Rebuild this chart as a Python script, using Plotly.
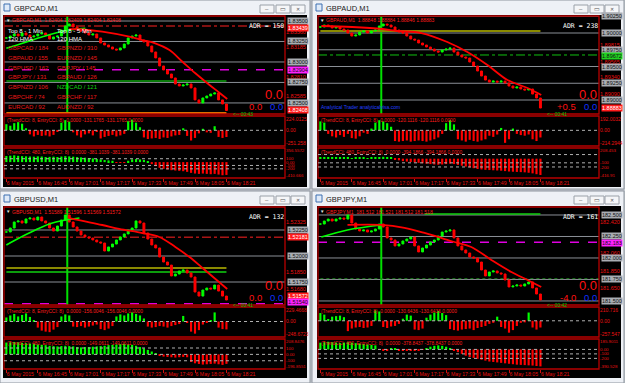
import plotly.graph_objects as go

# ---------------- data ----------------
time_ticks = [0, 8, 16, 24, 32, 40, 48, 56]
time_labels = ["6 May 2015", "6 May 16:45", "6 May 17:01", "6 May 17:17",
               "6 May 17:33", "6 May 17:49", "6 May 18:05", "6 May 18:21"]
signal_bar = 15.5

gbpcad_close = [1.83293, 1.83317, 1.83341, 1.83317, 1.83354, 1.83329, 1.83305, 1.83317, 1.83341, 1.83354,
                1.83329, 1.83280, 1.83305, 1.83317, 1.83390, 1.83439, 1.83463, 1.83427, 1.83390, 1.83378,
                1.83354, 1.83329, 1.83341, 1.83293, 1.83232, 1.83207, 1.83183, 1.83158, 1.83146, 1.83171,
                1.83219, 1.83293, 1.83317, 1.83329, 1.83268, 1.83244, 1.83195, 1.83122, 1.83049, 1.82951,
                1.82902, 1.82853, 1.82805, 1.82731, 1.82707, 1.82719, 1.82731, 1.82683, 1.82537, 1.82500,
                1.82561, 1.82585, 1.82609, 1.82622, 1.82537, 1.82487, 1.82408]
gbpaud_close = [1.90090, 1.90119, 1.90105, 1.90075, 1.90090, 1.90060, 1.90045, 1.90000, 1.89955, 1.89970,
                1.90015, 1.90030, 1.90000, 1.90030, 1.90045, 1.90105, 1.90134, 1.90119, 1.90090, 1.90045,
                1.90015, 1.90000, 1.89955, 1.89910, 1.89895, 1.89851, 1.89821, 1.89791, 1.89761, 1.89731,
                1.89716, 1.89746, 1.89761, 1.89776, 1.89716, 1.89672, 1.89642, 1.89627, 1.89567, 1.89507,
                1.89433, 1.89358, 1.89298, 1.89268, 1.89283, 1.89268, 1.89283, 1.89254, 1.89209, 1.89179,
                1.89194, 1.89164, 1.89149, 1.89164, 1.89089, 1.89030, 1.88880]
gbpusd_close = [1.52231, 1.52269, 1.52327, 1.52337, 1.52317, 1.52356, 1.52365, 1.52346, 1.52375, 1.52337,
                1.52317, 1.52269, 1.52240, 1.52288, 1.52346, 1.52394, 1.52327, 1.52279, 1.52240, 1.52202,
                1.52183, 1.52173, 1.52154, 1.52135, 1.52125, 1.52048, 1.52087, 1.52115, 1.52154, 1.52183,
                1.52212, 1.52250, 1.52269, 1.52337, 1.52317, 1.52221, 1.52163, 1.52106, 1.52077, 1.51990,
                1.51942, 1.51913, 1.51808, 1.51827, 1.51856, 1.51865, 1.51837, 1.51798, 1.51654, 1.51615,
                1.51673, 1.51692, 1.51683, 1.51721, 1.51663, 1.51615, 1.51577]
gbpjpy_close = [182.395, 182.430, 182.453, 182.430, 182.453, 182.465, 182.453, 182.500, 182.407, 182.337,
                182.314, 182.326, 182.302, 182.314, 182.337, 182.395, 182.360, 182.233, 182.209, 182.140,
                182.163, 182.198, 182.221, 182.244, 182.140, 182.070, 182.116, 182.151, 182.186, 182.209,
                182.256, 182.302, 182.314, 182.326, 182.233, 182.140, 182.093, 182.058, 182.012, 182.000,
                181.953, 181.860, 181.791, 181.837, 181.849, 181.826, 181.814, 181.744, 181.663, 181.674,
                181.686, 181.674, 181.698, 181.721, 181.651, 181.581, 181.512]

# moving averages (bar position, price)
gbpcad_hma_x = [16, 18.6, 24.4, 31.3, 34.6, 37.9, 41.5, 44.8, 48.1, 51.7, 54.2, 56.2]
gbpcad_hma_y = [1.83402, 1.83399, 1.83369, 1.83308, 1.83268, 1.83228, 1.83146, 1.83003, 1.82862, 1.82719, 1.82625, 1.82548]
gbpcad_ma_x = [0, 4.1, 9.2, 15, 20.1]
gbpcad_ma_y = [1.83167, 1.83228, 1.83308, 1.83382, 1.83411]
gbpaud_hma_x = [0.25, 8.1, 15.8, 19.6, 25.7, 32.3, 37.4, 42.5, 47.6, 52.7, 56.2]
gbpaud_hma_y = [1.90105, 1.90090, 1.90060, 1.90030, 1.90000, 1.89866, 1.89716, 1.89522, 1.89298, 1.89179, 1.89074]
gbpusd_hma_x = [16.0, 24.4, 28.7, 34.6, 38.9, 43.0, 46.6, 49.9, 53.2, 56.2]
gbpusd_hma_y = [1.52365, 1.52298, 1.52260, 1.52221, 1.52183, 1.52087, 1.51990, 1.51885, 1.51779, 1.51683]
gbpusd_ma_x = [0, 2.3, 7.4, 11.7, 18.6]
gbpusd_ma_y = [1.52106, 1.52154, 1.52250, 1.52317, 1.52365]
gbpjpy_hma_x = [6.9, 15.5, 21.4, 26.5, 34.1, 38.4, 43.5, 48.6, 52.7, 56.2]
gbpjpy_hma_y = [182.384, 182.384, 182.349, 182.291, 182.186, 182.128, 181.977, 181.837, 181.744, 181.663]
gbpjpy_ma_x = [0.25, 6.9, 15.5]
gbpjpy_ma_y = [182.244, 182.326, 182.384]

# CCI histograms
gbpcad_cci_entry = [120, 90, 140, 160, 130, 40, -80, -120, -90, -110, -100, -120, -90, -30, 150, 200, 170, -40, -100, -140,
                    -80, -60, -100, -30, -160, -130, -110, -90, -120, -100, -70, 180, 210, 150, 60, -140, -170, -160, -150, -170,
                    -140, -150, -120, -100, -90, 40, -110, -200, -150, -60, 30, -40, -50, 80, -130, -150, -131]
gbpcad_cci_trend = [180, 190, 200, 185, 175, 170, 165, 160, 170, 165, 150, 155, 160, 150, 165, 175, 170, 160, 150, 140,
                    130, 120, 110, 95, 80, 60, 50, 40, -15, -15, -10, 40, 80, 90, 80, 60, 30, -60, -120, -170,
                    -200, -220, -240, -250, -260, -270, -290, -320, -340, -350, -340, -350, -360, -350, -370, -390, -381]
gbpaud_cci_entry = [150, 130, -60, -100, -120, -80, -110, -60, -130, -140, -100, -40, -60, 30, 130, 170, 150, 120, 60, -180,
                    -190, -180, -170, -190, -180, -170, -180, -190, -170, -150, -120, -60, 120, 170, 100, -150, -170, -190, -160, -180,
                    -190, -170, -150, -90, -110, -70, 40, -210, -150, 30, -60, -80, -90, -70, -150, -180, -120]
gbpaud_cci_trend = [30, 35, 30, 25, 30, 20, 25, 20, 15, 20, 25, 20, 15, 20, 30, 40, 45, 40, 30, -20,
                    -40, -60, -70, -80, -90, -100, -110, -120, -130, -140, -145, -140, -130, -120, -130, -150, -170, -190, -210, -230,
                    -250, -260, -270, -275, -280, -285, -290, -300, -310, -315, -320, -325, -330, -340, -355, -375, -394]
gbpusd_cci_entry = [80, 120, 150, 100, 130, 160, 90, 20, -120, -180, -200, -210, -160, -110, 100, 140, 120, -100, -110, -90,
                    -120, -100, -80, -60, -150, -170, -140, -90, 100, 140, 120, 160, 180, 150, 120, 60, -100, -120, -110, -90,
                    -100, -120, -90, -70, -50, 110, -30, -200, -240, -170, -60, -20, 20, 180, -120, -150, -156]
gbpusd_cci_trend = [185, 190, 195, 190, 180, 175, 170, 165, 155, 150, 145, 135, 130, 125, 130, 135, 130, 125, 115, 110,
                    115, 115, 120, 125, 130, 135, 145, 150, 155, 160, 165, 155, 150, 135, 115, 95, 70, 45, 20, -10,
                    -35, -40, -45, -50, -45, -40, -45, -120, -140, -150, -160, -155, -150, -145, -155, -165, -149]
gbpjpy_cci_entry = [150, 120, 20, 80, 90, 100, 70, -200, -150, -130, -120, -140, -130, -100, 200, 180, -120, -140, -110, -100,
                    -60, 40, 120, 100, -170, -180, -150, 60, 120, 160, 190, 150, 110, -160, -180, -190, -170, -160, -150, -180,
                    -140, -120, -100, -60, -40, 80, -120, -150, -230, -180, -100, -40, -30, 160, -130, -170, -130]
gbpjpy_cci_trend = [150, 160, 170, 160, 150, 140, 150, 160, 150, 140, 130, 120, 110, 100, 90, -10, -20, -15, 10, 15,
                    -20, -30, -35, -30, -25, -20, -10, 30, 60, 80, 90, 80, 60, 30, -20, -60, -100, -140, -170, -190,
                    -210, -230, -250, -270, -280, -290, -300, -310, -320, -330, -340, -345, -350, -355, -360, -370, -379]

# price axis tick values and labelled level boxes
gbpcad_ticks = [1.83360, 1.83185, 1.82810, 1.82585]
gbpaud_ticks = [1.89815, 1.89565, 1.89340, 1.89090]
gbpusd_ticks = [1.52325, 1.51850, 1.51680]
gbpjpy_ticks = [182.420, 182.060, 181.850, 181.650]

gbpcad_levels = [(1.83500, "grey"), (1.83439, "red"), (1.83250, "grey"), (1.83000, "grey"), (1.82904, "magenta"),
                 (1.82750, "grey"), (1.82500, "grey"), (1.82408, "price")]
gbpaud_levels = [(1.90250, "grey"), (1.90000, "grey"), (1.89750, "grey"), (1.89672, "green"), (1.89500, "grey"),
                 (1.89250, "grey"), (1.89000, "grey"), (1.88883, "price")]
gbpusd_levels = [(1.52250, "grey"), (1.52181, "red"), (1.52000, "grey"), (1.51750, "grey"),
                 (1.51572, "price"), (1.51540, "magenta")]
gbpjpy_levels = [(182.500, "grey"), (182.250, "grey"), (182.183, "magenta"), (182.000, "grey"),
                 (181.750, "grey"), (181.500, "grey")]

# partial horizontal lines: (price, from bar, to bar, kind)
gbpcad_segments = [(1.82768, 0, 56, "darkgreen"), (1.82378, 0, 56, "orange")]
gbpaud_segments = [(1.90030, 0, 56, "olive")]
gbpusd_segments = [(1.51885, 0, 56, "olive"), (1.51846, 0, 56, "lime")]
gbpjpy_segments = [(182.512, 26.5, 56, "lime"), (181.760, 0, 71, "darkgreen_dot")]

cci_entry_ticks = [[224.0125, 0, -251.258], [192.0032, 0, -214.2944], [229.4668, 0, -248.6723], [210.716, 0, -257.547]]
cci_entry_ticktext = [["224.0125", "0.00", "-251.258"], ["192.0032", "0.00", "-214.2944"],
                      ["229.4668", "0.00", "-248.6723"], ["210.716", "0.00", "-257.547"]]
cci_trend_ticks = [[356.5572, 100, 0, -100, -200, -410.666], [208.453, -100, -200, -416.91],
                   [208.8476, 100, 0, -100, -196.8551], [185.9011, 0, -100, -200, -390.528]]
cci_trend_ticktext = [["356.5572", "100", "0.00", "-100", "-200", "-410.666"], ["208.453", "-100", "-200", "-416.91"],
                      ["208.8476", "100", "0.00", "-100", "-196.8551"], ["185.9011", "0.00", "-100", "-200", "-390.528"]]
cci_trend_levels = [[100, -100, -200], [100, -100, -200], [100, 0, -100], [0, -100, -200]]

top8_1min = ["GBPCAD / 184", "GBPAUD / 155", "GBPUSD / 162", "GBPJPY / 131", "GBPNZD / 106", "GBPCHF / 74", "EURCAD / 92"]
top8_5min = ["GBPNZD / 310", "EURNZD / 145", "GBPJPY / 145", "GBPAUD / 126", "NZDCAD / 121", "GBPCHF / 117", "AUDNZD / 92"]

# ---------------- drawing ----------------
W, H = 625, 383
FONT = "Liberation Sans"
MONO = "DejaVu Sans Mono"
RED = "#ff1c1c"
LABEL_RED = "#e81010"
BULL, BEAR = "#00ff00", "#ff0000"


def fx(px):
    return px / W


def fy(py):
    return 1 - py / H


shapes, annotations = [], []


def rect(x0, y0, x1, y1, fill=None, line=None, lw=1, layer="below"):
    shapes.append(dict(type="rect", xref="paper", yref="paper", x0=fx(x0), x1=fx(x1), y0=fy(y1), y1=fy(y0),
                       fillcolor=fill or "rgba(0,0,0,0)",
                       line=dict(color=line or "rgba(0,0,0,0)", width=lw if line else 0), layer=layer))


def text(px, py, s, color, size=6, family=FONT, xanchor="left", yanchor="middle", bg=None):
    a = dict(xref="paper", yref="paper", x=fx(px), y=fy(py), text=s, showarrow=False, xanchor=xanchor,
             yanchor=yanchor, font=dict(color=color, size=size, family=family), borderpad=0)
    if bg:
        a["bgcolor"] = bg
    annotations.append(a)


level_style = {
    "grey": dict(line=dict(color="#8a8f96", width=1)),
    "red": dict(line=dict(color="#ff2020", width=1, dash="dashdot")),
    "magenta": dict(line=dict(color="#e000e0", width=1.5, dash="dash")),
    "green": dict(line=dict(color="#10c010", width=1, dash="dashdot")),
    "price": None,
}
box_style = {
    "grey": ("#a9adb3", "#101010"),
    "red": ("#ff1a1a", "#ffffff"),
    "magenta": ("#ff20ff", "#101010"),
    "green": ("#20d020", "#101010"),
    "price": ("#ff1a1a", "#ffffff"),
}
segment_style = {
    "darkgreen": dict(color="#0a7a0a", width=2),
    "orange": dict(color="#e07000", width=2),
    "olive": dict(color="#8a8a00", width=2),
    "lime": dict(color="#10d010", width=1.5),
    "darkgreen_dot": dict(color="#1a7a1a", width=1, dash="dot"),
}

windows = [
    dict(title="GBPCAD,M1", head="GBPCAD,M1  1.82404 1.82409 1.82404 1.82408", dx=0, dy=0,
         outer=(0, 0, 310, 189), close=gbpcad_close, hma=(gbpcad_hma_x, gbpcad_hma_y), ma=(gbpcad_ma_x, gbpcad_ma_y),
         entry=gbpcad_cci_entry, trend=gbpcad_cci_trend, ticks=gbpcad_ticks, levels=gbpcad_levels, segs=gbpcad_segments,
         yr=[1.82365, 1.83561], fmt="{:.5f}", adr="ADR = 150", sig=("0.0", "0.0"), clock="<-- 00:43",
         cci1="(TrendCCI: 8, EntryCCI: 8)  0.0000 -131.1765 -131.1765 0.0000",
         cci2="(TrendCCI: 480, EntryCCI: 8)  0.0000 -381.1039 -381.1039 0.0000"),
    dict(title="GBPAUD,M1", head="GBPAUD,M1  1.88848 1.88884 1.88846 1.88883", dx=314, dy=0,
         outer=(312, 0, 624, 189), close=gbpaud_close, hma=(gbpaud_hma_x, gbpaud_hma_y), ma=None,
         entry=gbpaud_cci_entry, trend=gbpaud_cci_trend, ticks=gbpaud_ticks, levels=gbpaud_levels, segs=gbpaud_segments,
         yr=[1.88791, 1.90254], fmt="{:.5f}", adr="ADR = 238", sig=("+0.5", "0.0"), clock="<-- 00:41",
         cci1="(TrendCCI: 8, EntryCCI: 8)  0.0000 -120.1116 -120.1116 0.0000",
         cci2="(TrendCCI: 480, EntryCCI: 8)  0.0000 -394.1866 -394.1866 0.0000"),
    dict(title="GBPUSD,M1", head="GBPUSD,M1  1.51589 1.51596 1.51569 1.51572", dx=0, dy=191,
         outer=(0, 191, 310, 383), close=gbpusd_close, hma=(gbpusd_hma_x, gbpusd_hma_y), ma=(gbpusd_ma_x, gbpusd_ma_y),
         entry=gbpusd_cci_entry, trend=gbpusd_cci_trend, ticks=gbpusd_ticks, levels=gbpusd_levels, segs=gbpusd_segments,
         yr=[1.51529, 1.52471], fmt="{:.5f}", adr="ADR = 132", sig=("0.0", "0.0"), clock="<-- 00:41",
         cci1="(TrendCCI: 8, EntryCCI: 8)  0.0000 -156.0046 -156.0046 0.0000",
         cci2="(TrendCCI: 480, EntryCCI: 8)  0.0000 -149.0611 -149.0611 0.0000"),
    dict(title="GBPJPY,M1", head="GBPJPY,M1  181.512 181.521 181.512 181.518", dx=314, dy=191,
         outer=(312, 191, 624, 383), close=gbpjpy_close, hma=(gbpjpy_hma_x, gbpjpy_hma_y), ma=(gbpjpy_ma_x, gbpjpy_ma_y),
         entry=gbpjpy_cci_entry, trend=gbpjpy_cci_trend, ticks=gbpjpy_ticks, levels=gbpjpy_levels, segs=gbpjpy_segments,
         yr=[181.453, 182.593], fmt="{:.3f}", adr="ADR = 161", sig=("-4.0", "0.0"), clock="<-- 00:42",
         cci1="(TrendCCI: 8, EntryCCI: 8)  0.0000 -130.6436 -130.6436 0.0000",
         cci2="(TrendCCI: 480, EntryCCI: 8)  0.0000 -378.8437 -378.8437 0.0000"),
]

PL, PR = 4, 285
PANELS = [(16, 114), (116, 146), (148, 178)]
XR = [-0.6, 70.9]
BOX_H = 6.5


def padded(ticks, frac=0.1):
    lo, hi = min(ticks), max(ticks)
    span = hi - lo
    return [lo - frac * span, hi + frac * span]


fig = go.Figure()
layout_axes = {}

for w, win in enumerate(windows):
    dx, dy = win["dx"], win["dy"]
    ox0, oy0, ox1, oy1 = win["outer"]
    # window frame + title bar
    rect(ox0, oy0, ox1, oy1, fill="#eef1f6", line="#8e959e", lw=1)
    rect(ox0 + 4, oy0 + 4, ox0 + 10, oy0 + 11, fill="#dfeaf8", line="#3d6fb0", lw=1)
    text(ox0 + 13, oy0 + 8.5, win["title"], "#202020", size=7.5)
    for bx in (ox1 - 50, ox1 - 34, ox1 - 19):
        rect(bx, oy0 + 5, bx + 14, oy0 + 13, fill="#f5f6f8", line="#9aa0a8", lw=1)
    text(ox1 - 43, oy0 + 9, "–", "#555555", size=6, xanchor="center")
    text(ox1 - 27, oy0 + 9, "▭", "#555555", size=6, xanchor="center")
    text(ox1 - 12, oy0 + 9, "✕", "#555555", size=5, xanchor="center")
    # black chart area
    rect(3 + dx, 15 + dy, 307 + dx, 187 + dy, fill="#000000")

    left, right = PL + dx, PR + dx
    ids = []
    for p, (top, bot) in enumerate(PANELS):
        n = 3 * w + p + 1
        s = "" if n == 1 else str(n)
        ids.append(s)
        xa = dict(domain=[fx(left), fx(right)], range=XR, anchor="y" + s, showgrid=False, zeroline=False,
                  showline=False, showticklabels=False, ticks="", fixedrange=True,
                  rangeslider=dict(visible=False))
        if p == 2:
            xa.update(showticklabels=True, tickvals=time_ticks, ticktext=time_labels, ticks="outside", ticklen=3,
                      tickcolor="#d01010", tickwidth=1, ticklabelposition="outside right", tickangle=0,
                      ticklabelstandoff=0, tickfont=dict(color=LABEL_RED, size=5.2, family=FONT))
        ya = dict(domain=[fy(bot + dy), fy(top + dy)], anchor="x" + s, side="right", showgrid=False,
                  zeroline=False, showline=False, ticks="", fixedrange=True,
                  tickfont=dict(color=LABEL_RED, size=5.5, family=FONT))
        if p == 0:
            ya.update(range=win["yr"], tickvals=win["ticks"], ticktext=[win["fmt"].format(v) for v in win["ticks"]])
        elif p == 1:
            ya.update(range=padded(cci_entry_ticks[w], 0.12), tickvals=cci_entry_ticks[w], ticktext=cci_entry_ticktext[w],
                      tickfont=dict(color=LABEL_RED, size=5, family=FONT))
        else:
            ya.update(range=padded(cci_trend_ticks[w], 0.08), tickvals=cci_trend_ticks[w],
                      ticktext=cci_trend_ticktext[w], tickfont=dict(color=LABEL_RED, size=4.4, family=FONT))
        layout_axes["xaxis" + s] = xa
        layout_axes["yaxis" + s] = ya
        # red panel outline
        rect(left, top + dy, right, bot + dy, line="#b80000", lw=1.3, layer="above")

    sm, s1, s2 = ids
    close = win["close"]
    bars = list(range(len(close)))
    opens = [close[0]] + close[:-1]
    highs = [max(o, c) for o, c in zip(opens, close)]
    lows = [min(o, c) for o, c in zip(opens, close)]

    # level lines and their price boxes (boxes nudged apart so they do not overlap)
    y0p, y1p = win["yr"]
    mtop, mbot = PANELS[0][0] + dy, PANELS[0][1] + dy
    lv_sorted = sorted(win["levels"], key=lambda t: -t[0])
    orig = [mtop + (y1p - pr) / (y1p - y0p) * (mbot - mtop) for pr, _ in lv_sorted]
    pos = list(orig)
    for i in range(1, len(pos)):
        pos[i] = max(pos[i], pos[i - 1] + BOX_H)
    pos[-1] = min(pos[-1], mbot - 3)
    for i in range(len(pos) - 2, -1, -1):
        pos[i] = min(pos[i], pos[i + 1] - BOX_H)
    for (price, kind), po, pn in zip(lv_sorted, orig, pos):
        st = level_style[kind]
        if st is not None:
            shapes.append(dict(type="line", xref="x%s domain" % sm, yref="y" + sm, x0=0, x1=1, y0=price, y1=price,
                               layer="below", **st))
        bg, fg = box_style[kind]
        annotations.append(dict(xref="paper", yref="y" + sm, x=fx(right + 1.5), y=price, text=win["fmt"].format(price),
                                showarrow=False, xanchor="left", yanchor="middle", bgcolor=bg, borderpad=0,
                                yshift=po - pn, font=dict(color=fg, size=5.5, family=FONT)))
    for price, b0, b1, kind in win["segs"]:
        shapes.append(dict(type="line", xref="x" + sm, yref="y" + sm, x0=b0, x1=b1, y0=price, y1=price,
                           layer="below", line=segment_style[kind]))
    # signal bar vertical line
    shapes.append(dict(type="line", xref="x" + sm, yref="y%s domain" % sm, x0=signal_bar, x1=signal_bar, y0=0, y1=1,
                       layer="below", line=dict(color="#00e000", width=2)))

    fig.add_trace(go.Candlestick(x=bars, open=opens, high=highs, low=lows, close=close,
                                 xaxis="x" + sm, yaxis="y" + sm, whiskerwidth=0,
                                 increasing=dict(line=dict(color=BULL, width=1), fillcolor=BULL),
                                 decreasing=dict(line=dict(color=BEAR, width=1), fillcolor=BEAR)))
    if win["ma"] is not None:
        fig.add_trace(go.Scatter(x=win["ma"][0], y=win["ma"][1], mode="lines", xaxis="x" + sm, yaxis="y" + sm,
                                 line=dict(color="#00ff00", width=1.6, shape="spline")))
    fig.add_trace(go.Scatter(x=win["hma"][0], y=win["hma"][1], mode="lines", xaxis="x" + sm, yaxis="y" + sm,
                             line=dict(color="#ff0000", width=1.8, shape="spline")))

    # CCI panels
    for vals, s in ((win["entry"], s1), (win["trend"], s2)):
        fig.add_trace(go.Bar(x=list(range(len(vals))), y=vals, width=0.55, xaxis="x" + s, yaxis="y" + s,
                             marker=dict(color=[BULL if v >= 0 else BEAR for v in vals], line=dict(width=0))))
    shapes.append(dict(type="line", xref="x%s domain" % s1, yref="y" + s1, x0=0, x1=1, y0=0, y1=0,
                       layer="above", line=dict(color="#b0b0b0", width=1, dash="dot")))
    for lv in cci_trend_levels[w]:
        shapes.append(dict(type="line", xref="x%s domain" % s2, yref="y" + s2, x0=0, x1=1, y0=lv, y1=lv,
                           layer="above", line=dict(color="#b0b0b0", width=1, dash="dot")))

    # texts inside the chart
    text(5 + dx, 20.5 + dy, "▼", "#e0e0e0", size=4.5)
    text(11 + dx, 20.5 + dy, win["head"], RED, size=5)
    text(6 + dx, 120 + dy, win["cci1"], RED, size=4.8)
    text(6 + dx, 152 + dy, win["cci2"], RED, size=4.8)
    text(285 + dx, 25.5 + dy, win["adr"], "#ffffff", size=6.5, family=MONO, xanchor="right")
    text(284 + dx, 94 + dy, "0.0", "#ff1010", size=13, xanchor="right")
    text(263 + dx, 106.5 + dy, win["sig"][0], "#ff1010", size=9.5, xanchor="right")
    text(284 + dx, 106.5 + dy, win["sig"][1], "#1030ff", size=9.5, xanchor="right")
    text(232 + dx, 113.5 + dy, win["clock"], "#00c800", size=5)

# GBPCAD currency strength table
text(7, 31, "Top 8 - 1 Min", "#ffffff", size=6)
text(56, 31, "Top 8 - 5 Min", "#ffffff", size=6)
text(7, 38.5, "120 HMA", "#ffffff", size=6)
text(56, 38.5, "120 HMA", "#ffffff", size=6)
for r, (a, b) in enumerate(zip(top8_1min, top8_5min)):
    yy = 48 + r * 9.8
    text(7, yy, a, "#e81818", size=6)
    text(56, yy, b, "#10d010" if b.startswith("NZDCAD") else "#e81818", size=6)

# GBPAUD caption
text(320, 107, "Analytical Trader analyticalvisa.com", "#2040ff", size=5)

fig.update_layout(width=W, height=H, margin=dict(l=0, r=0, t=0, b=0), paper_bgcolor="#c3c8cf",
                  plot_bgcolor="#000000", showlegend=False, shapes=shapes, annotations=annotations,
                  hovermode=False, **layout_axes)
fig.write_html("out.html")
